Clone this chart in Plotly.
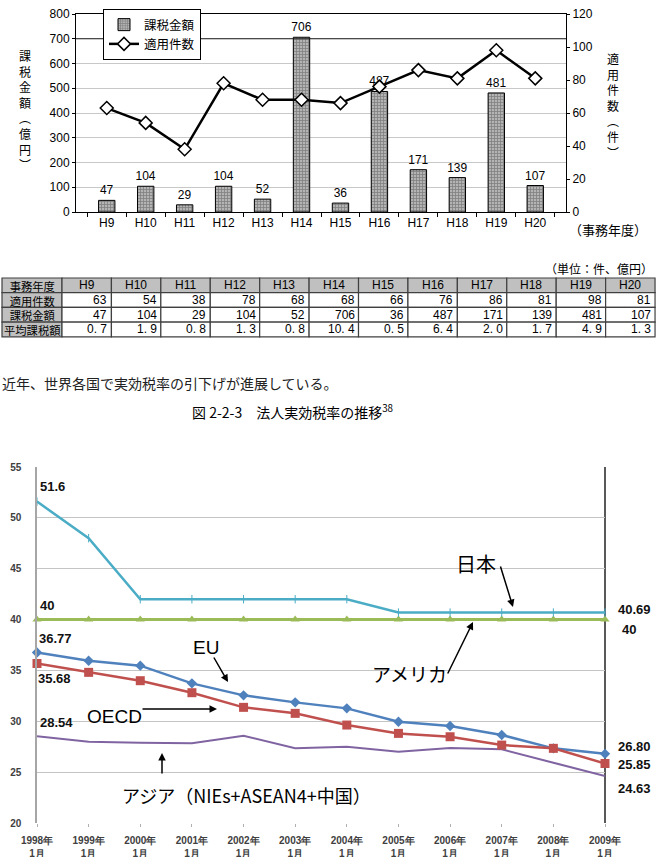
import plotly.graph_objects as go

W, H = 657, 857
def px(x): return x / W
def py(y): return 1 - y / H

JP = "Noto Sans CJK JP"
AR = "Liberation Sans"

# ---------------- data: chart 1 ----------------
years_h = ["H9", "H10", "H11", "H12", "H13", "H14", "H15", "H16", "H17", "H18", "H19", "H20"]
tax_amount = [47, 104, 29, 104, 52, 706, 36, 487, 171, 139, 481, 107]
case_count = [63, 54, 38, 78, 68, 68, 66, 76, 86, 81, 98, 81]
avg_tax = [0.7, 1.9, 0.8, 1.3, 0.8, 10.4, 0.5, 6.4, 2.0, 1.7, 4.9, 1.3]
row_names = ["事務年度", "適用件数", "課税金額", "平均課税額"]

# ---------------- data: chart 2 ----------------
years = [1998, 1999, 2000, 2001, 2002, 2003, 2004, 2005, 2006, 2007, 2008, 2009]
year_labels = [f"<b>{y}年<br>1月</b>" for y in years]
japan = [51.6, 48.0, 42.0, 42.0, 42.0, 42.0, 42.0, 40.69, 40.69, 40.69, 40.69, 40.69]
usa = [40, 40, 40, 40, 40, 40, 40, 40, 40, 40, 40, 40]
eu = [36.77, 35.95, 35.47, 33.73, 32.55, 31.86, 31.27, 29.96, 29.53, 28.65, 27.34, 26.80]
oecd = [35.68, 34.81, 33.99, 32.81, 31.37, 30.78, 29.63, 28.81, 28.48, 27.66, 27.34, 25.85]
asia = [28.54, 28.0, 27.9, 27.83, 28.58, 27.34, 27.5, 27.0, 27.37, 27.24, 25.93, 24.63]
rate_ticks = [20, 25, 30, 35, 40, 45, 50, 55]
rate_grid = [25, 30, 35, 40, 45, 50]

fig = go.Figure()

# ---- chart 1 traces ----
fig.add_trace(go.Bar(
    x=years_h, y=tax_amount, name="課税金額", xaxis="x", yaxis="y",
    width=0.42,
    marker=dict(color="#a0a0a0", line=dict(color="black", width=1),
                pattern=dict(shape="+", fgcolor="#4a4a4a", bgcolor="#b4b4b4", size=3, solidity=0.45)),
    text=[str(v) for v in tax_amount], textposition="outside", constraintext="none",
    textfont=dict(family=AR, size=12, color="black"), cliponaxis=False,
))
fig.add_trace(go.Scatter(
    x=years_h, y=case_count, name="適用件数", xaxis="x", yaxis="y2",
    mode="lines+markers", line=dict(color="black", width=2.5),
    marker=dict(symbol="diamond", size=10, color="white", line=dict(color="black", width=1.5)),
    cliponaxis=False,
))

# ---- chart 2 traces ----
fig.add_trace(go.Scatter(x=years, y=asia, xaxis="x2", yaxis="y3", mode="lines",
                         line=dict(color="#8064A2", width=2), showlegend=False, cliponaxis=False))
fig.add_trace(go.Scatter(x=years, y=eu, xaxis="x2", yaxis="y3", mode="lines+markers",
                         line=dict(color="#4F81BD", width=2.5),
                         marker=dict(symbol="diamond", size=8, color="#4F81BD"),
                         showlegend=False, cliponaxis=False))
fig.add_trace(go.Scatter(x=years, y=oecd, xaxis="x2", yaxis="y3", mode="lines+markers",
                         line=dict(color="#C0504D", width=2.5),
                         marker=dict(symbol="square", size=9, color="#C0504D"),
                         showlegend=False, cliponaxis=False))
fig.add_trace(go.Scatter(x=years, y=usa, xaxis="x2", yaxis="y3", mode="lines+markers",
                         line=dict(color="#9BBB59", width=3),
                         marker=dict(symbol="triangle-up", size=8, color="#9BBB59"),
                         showlegend=False, cliponaxis=False))
fig.add_trace(go.Scatter(x=years, y=japan, xaxis="x2", yaxis="y3", mode="lines+markers",
                         line=dict(color="#4BACC6", width=2.5),
                         marker=dict(symbol="line-ns-open", size=6, line=dict(color="#4BACC6", width=1)),
                         showlegend=False, cliponaxis=False))
# grid-only overlay axis needs a (blank) trace to appear
fig.add_trace(go.Scatter(x=[years[0]], y=[None], xaxis="x2", yaxis="y4", showlegend=False, mode="lines"))

shapes = [
    dict(type="line", xref="x domain", yref="y", x0=0, x1=1, y0=700, y1=700,
         line=dict(color="#202020", width=1)),
    dict(type="line", xref="x2 domain", yref="y3 domain", x0=1, x1=1, y0=0, y1=1,
         line=dict(color="#595959", width=2), layer="below"),
]
annotations = []

def ptxt(text, x, y, size, family=JP, xanchor="center", color="black", align="center"):
    return dict(text=text, x=px(x), y=py(y), xref="paper", yref="paper",
                xanchor=xanchor, yanchor="middle", align=align, showarrow=False,
                font=dict(family=family, size=size, color=color))

# ---- table (drawn with shapes + annotations) ----
col_edges = [2, 62] + [62 + 49.42 * (i + 1) for i in range(12)]
row_edges = [278, 292.7, 307.4, 322.1, 336.8]
fmt_avg = [f"{v:.1f}".replace(".", ". ") for v in avg_tax]
for r in range(4):
    for c in range(13):
        x0, x1 = col_edges[c], col_edges[c + 1]
        y0, y1 = row_edges[r], row_edges[r + 1]
        fill = "#c0c0c0" if (r == 0 or c == 0) else "white"
        shapes.append(dict(type="rect", xref="paper", yref="paper",
                           x0=px(x0), x1=px(x1), y0=py(y1), y1=py(y0),
                           fillcolor=fill, line=dict(color="#404040", width=1.2), layer="below"))
# first column: one multi-line text (line spacing = row height)
annotations.append(ptxt("<br>".join(row_names), (col_edges[0] + col_edges[1]) / 2,
                        (row_edges[0] + row_edges[-1]) / 2 + 0.5, 11.3))
for c in range(12):
    x0, x1 = col_edges[c + 1], col_edges[c + 2]
    annotations.append(ptxt(years_h[c], (x0 + x1) / 2, (row_edges[0] + row_edges[1]) / 2, 12, AR))
    vals = [str(case_count[c]), str(tax_amount[c]), fmt_avg[c]]
    for r in range(3):
        annotations.append(ptxt(vals[r], x1 - 2, (row_edges[r + 1] + row_edges[r + 2]) / 2, 12, AR,
                                xanchor="right"))

annotations += [
    ptxt("課<br>税<br>金<br>額<br>︵<br>億<br>円<br>︶", 25, 110, 12),
    ptxt("適<br>用<br>件<br>数<br>︵<br>件<br>︶", 613, 106, 12),
    ptxt("（事務年度）", 608, 229, 13),
    ptxt("（単位：件、億円）", 655, 269, 12, xanchor="right"),
    ptxt("近年、世界各国で実効税率の引下げが進展している。", 0, 383, 14, xanchor="left", color="#222"),
    ptxt("図 2-2-3　法人実効税率の推移<sup>38</sup>", 292, 411, 14),
]

# value labels chart 2
def vlab(text, xv, yv, xshift, yshift):
    return dict(text=f"<b>{text}</b>", x=xv, y=yv, xref="x2", yref="y3", xanchor="left",
                yanchor="middle", xshift=xshift, yshift=yshift, showarrow=False,
                font=dict(family=AR, size=13, color="#111"))

annotations += [
    vlab(f"{japan[0]}", years[0], japan[0], 1, 15),
    vlab(f"{usa[0]}", years[0], usa[0], 1, 14),
    vlab(f"{eu[0]:.2f}", years[0], eu[0], 0, 14),
    vlab(f"{oecd[0]:.2f}", years[0], oecd[0], -1, -15),
    vlab(f"{asia[0]:.2f}", years[0], asia[0], 1, 14),
    vlab(f"{japan[-1]:.2f}", years[-1], japan[-1], 11, 3),
    vlab(f"{usa[-1]}", years[-1], usa[-1], 15, -10),
    vlab(f"{eu[-1]:.2f}", years[-1], eu[-1], 11, 7),
    vlab(f"{oecd[-1]:.2f}", years[-1], oecd[-1], 11, -1),
    vlab(f"{asia[-1]:.2f}", years[-1], asia[-1], 11, -13),
]

def arrow(x0, y0, x1, y1):
    return dict(text="", x=px(x1), y=py(y1), xref="paper", yref="paper",
                ax=x0 - x1, ay=y0 - y1, axref="pixel", ayref="pixel",
                showarrow=True, arrowhead=2, arrowsize=1, arrowwidth=1.5, arrowcolor="black")

annotations += [
    ptxt("日本", 476, 563, 20),
    arrow(500, 565, 513, 607),
    ptxt("アメリカ", 409, 673, 19),
    arrow(447, 675, 473, 622),
    ptxt("EU", 206, 647, 19, AR),
    arrow(213, 656, 228, 682),
    ptxt("OECD", 114, 716, 19, AR),
    arrow(141, 709, 217, 709),
    ptxt("アジア（NIEs+ASEAN4+中国）", 246, 795, 18),
    arrow(162, 775, 162, 753),
]

fig.update_layout(
    width=W, height=H, margin=dict(l=0, r=0, t=0, b=0, autoexpand=False),
    paper_bgcolor="white", plot_bgcolor="white",
    showlegend=True, hovermode=False,
    legend=dict(x=px(103), y=py(9), xanchor="left", yanchor="top",
                bgcolor="white", bordercolor="black", borderwidth=1,
                font=dict(family=JP, size=12.5, color="black"), traceorder="normal",
                itemwidth=30, tracegroupgap=0),
    xaxis=dict(domain=[px(76), px(566)], anchor="y", showline=True, linecolor="black", mirror=True,
               ticks="outside", ticklen=4, tickcolor="black", tickson="boundaries", automargin=False,
               tickfont=dict(family=AR, size=12, color="black"), showgrid=False),
    yaxis=dict(domain=[py(212), py(14)], anchor="x", range=[0, 800], dtick=100, automargin=False,
               showline=True, linecolor="black", ticks="outside", ticklen=3, tickcolor="black",
               gridcolor="#c8c8c8", zeroline=False,
               tickfont=dict(family=AR, size=12, color="black")),
    yaxis2=dict(overlaying="y", side="right", anchor="x", range=[0, 120], dtick=20, automargin=False,
                showline=True, linecolor="black", ticks="outside", ticklen=3, tickcolor="black",
                showgrid=False, zeroline=False,
                tickfont=dict(family=AR, size=12, color="black")),
    xaxis2=dict(domain=[px(37), px(605)], anchor="y3", range=[years[0], years[-1]], automargin=False,
                tickvals=years, ticktext=year_labels, showgrid=False, showline=False, zeroline=False,
                ticks="outside", ticklen=3, tickcolor="#b0b0b0", ticklabelstandoff=5,
                tickfont=dict(family=AR, size=10, color="#404040")),
    yaxis3=dict(domain=[py(823), py(467)], anchor="x2", range=[20, 55], automargin=False,
                tickvals=rate_ticks, ticktext=[f"<b>{v}</b>" for v in rate_ticks],
                showline=True, linecolor="#a6a6a6", linewidth=1.5, showgrid=False,
                zeroline=False, ticks="", ticklabelstandoff=12,
                tickfont=dict(family=AR, size=10, color="#404040")),
    yaxis4=dict(domain=[py(823), py(467)], anchor="x2", overlaying="y3", range=[20, 55], automargin=False,
                tickvals=rate_grid, showticklabels=False, showgrid=True, gridcolor="#c4c4c4",
                showline=False, zeroline=False, ticks=""),
    shapes=shapes, annotations=annotations,
)

fig.write_html("out.html")
